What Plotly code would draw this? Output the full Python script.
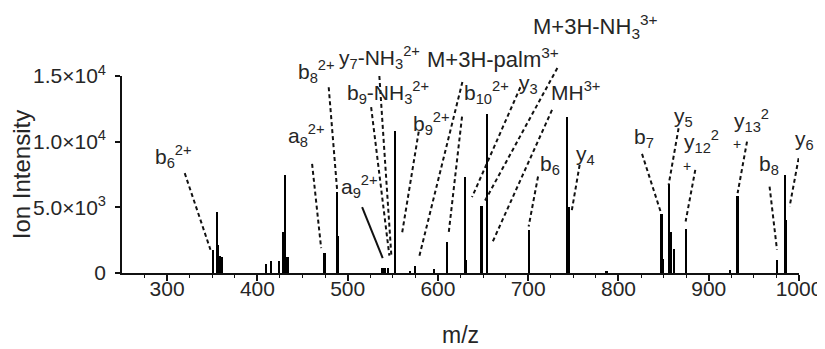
import plotly.graph_objects as go

# ---- spectrum data (m/z, ion intensity) ----
mz = [350.9, 355.5, 357.0, 359.0, 361.0, 410.0, 415.0, 424.5, 429.0, 431.0, 433.5,
      474.5, 488.5, 489.8, 539.0, 542.0, 545.0, 552.8, 569.0, 575.0, 596.0, 610.0,
      630.0, 631.2, 648.5, 654.5, 700.8, 743.6, 744.8, 787.0, 848.0, 849.8, 856.5,
      857.8, 861.7, 875.0, 924.0, 932.0, 975.8, 984.6, 985.8]
intensity = [1750, 4660, 2100, 1300, 1250, 660, 900, 880, 3140, 7500, 1250,
             1500, 6130, 2800, 350, 380, 350, 10800, 150, 530, 280, 2380,
             7320, 1000, 5100, 12080, 3250, 11900, 5060, 120, 4480, 1100, 6790,
             3140, 1850, 3330, 200, 5870, 1020, 7470, 4050]

X_MIN, X_MAX = 250, 1000
x_tickvals = [300, 400, 500, 600, 700, 800, 900, 1000]
y_tickvals = [0, 5000, 10000, 15000]
y_ticktext = ["0", "5.0×10<sup>3</sup>", "1.0×10<sup>4</sup>", "1.5×10<sup>4</sup>"]
Y_MAX = 15000

# ---- peak labels (text, m/z, intensity, font size) ----
label_text = ["b<sub>6</sub><sup>2+</sup>", "a<sub>8</sub><sup>2+</sup>", "b<sub>8</sub><sup>2+</sup>",
              "y<sub>7</sub>-NH<sub>3</sub><sup>2+</sup>", "b<sub>9</sub>-NH<sub>3</sub><sup>2+</sup>",
              "a<sub>9</sub><sup>2+</sup>", "b<sub>9</sub><sup>2+</sup>", "M+3H-palm<sup>3+</sup>",
              "b<sub>10</sub><sup>2+</sup>", "y<sub>3</sub>", "M+3H-NH<sub>3</sub><sup>3+</sup>",
              "MH<sup>3+</sup>", "b<sub>6</sub>", "y<sub>4</sub>", "b<sub>7</sub>", "y<sub>5</sub>",
              "y<sub>12</sub><sup>2</sup>", "y<sub>13</sub><sup>2</sup>", "b<sub>8</sub>", "y<sub>6</sub>"]
label_mz = [307.0, 454.3, 465.4, 535.1, 545.1, 513.0, 592.7, 661.4, 653.7, 700.2, 774.4,
            752.2, 724.5, 763.3, 828.6, 871.9, 892.3, 947.7, 967.1, 1005.9]
label_int = [8900, 10439, 15305, 16445, 13708, 6561, 11351, 16369, 13708, 14392, 18802,
             13860, 8234, 8994, 10287, 11883, 10021, 11579, 8234, 10135]
label_size = [21, 21, 21, 21, 21, 21, 21, 22, 21, 21, 22,
              21, 21, 21, 21, 21, 21, 21, 21, 21]

# small "+" continuation marks of the y12 / y13 labels
plus_mz = [876.0, 931.7]
plus_int = [8181, 9831]

# ---- leader lines (start m/z, start intensity, end m/z, end intensity, dashed?) ----
lead_mz0 = [319.5, 460.6, 479.0, 535.1, 526.0, 516.0, 578.7, 627.1, 626.7, 691.3, 732.3,
            726.4, 710.9, 757.0, 826.1, 866.6, 885.1, 942.4, 967.4, 999.6]
lead_i0 = [7600, 8310, 14142, 15000, 12621, 5018, 10766, 14545, 11906, 14142, 15609,
           12416, 7345, 8234, 9070, 11024, 7854, 10006, 6584, 8743]
lead_mz1 = [348.0, 470.6, 488.3, 548.4, 546.2, 538.8, 560.3, 578.7, 611.9, 637.8, 650.7,
            660.0, 700.5, 747.8, 847.2, 855.6, 874.4, 932.0, 975.6, 989.6]
lead_i1 = [1771, 1900, 6333, 1315, 1315, 1140, 3041, 1087, 3041, 5778, 5322,
           2281, 3543, 4562, 4562, 6713, 3923, 6082, 1771, 5064]
lead_dashed = [True, True, True, True, True, False, True, True, True, True, True,
               True, True, True, True, True, True, True, True, True]

TEXT = "#262626"
FONT = "Liberation Sans, Arial, sans-serif"


def px(m):
    """m/z -> fraction of the x-axis (paper), so labels may sit outside the range."""
    return (m - X_MIN) / (X_MAX - X_MIN)


def py(i):
    return i / Y_MAX


fig = go.Figure()
fig.add_trace(go.Bar(x=mz, y=intensity, width=2.0,
                     marker=dict(color="black", line=dict(width=0)),
                     showlegend=False, hoverinfo="x+y"))

for t, x, y, s in zip(label_text, label_mz, label_int, label_size):
    fig.add_annotation(x=px(x), y=py(y), xref="paper", yref="paper", text=t, showarrow=False,
                       xanchor="center", yanchor="middle",
                       font=dict(family=FONT, size=s, color=TEXT))
for x, y in zip(plus_mz, plus_int):
    fig.add_annotation(x=px(x), y=py(y), xref="paper", yref="paper", text="+", showarrow=False,
                       xanchor="center", yanchor="middle",
                       font=dict(family=FONT, size=14, color="#222222"))

for x0, i0, x1, i1, d in zip(lead_mz0, lead_i0, lead_mz1, lead_i1, lead_dashed):
    fig.add_shape(type="line", xref="x", yref="paper",
                  x0=x0, y0=py(i0), x1=x1, y1=py(i1),
                  line=dict(color="#111111", width=2, dash="4px,3px" if d else "solid"))

# the page body adds an 8px offset, so the figure is 8px smaller than the window
fig.update_layout(
    width=817, height=341,
    margin=dict(l=114, r=26, t=68, b=76),
    paper_bgcolor="white", plot_bgcolor="white",
    font=dict(family=FONT, color=TEXT),
    bargap=0,
)
fig.update_xaxes(range=[X_MIN, X_MAX], tickvals=x_tickvals, showgrid=False, zeroline=False,
                 automargin=False,
                 showline=True, linecolor="#111111", linewidth=1.6,
                 ticks="outside", ticklen=6, tickwidth=1.5, tickcolor="#111111",
                 minor=dict(tickvals=list(range(275, 1000, 25)), ticks="outside", ticklen=3,
                            tickwidth=1.3, tickcolor="#111111"),
                 tickfont=dict(size=21, color=TEXT), ticklabelstandoff=-10,
                 title=dict(text="m/z", font=dict(size=23, color=TEXT), standoff=28))
fig.update_yaxes(range=[0, Y_MAX], tickvals=y_tickvals, ticktext=y_ticktext,
                 showgrid=False, zeroline=False, automargin=False,
                 showline=True, linecolor="#111111", linewidth=1.6,
                 ticks="outside", ticklen=5, tickwidth=1.5, tickcolor="#111111",
                 tickfont=dict(size=21, color=TEXT), ticklabelstandoff=5,
                 title=dict(text="Ion Intensity", font=dict(size=24, color=TEXT), standoff=6))

fig.write_html("out.html")
